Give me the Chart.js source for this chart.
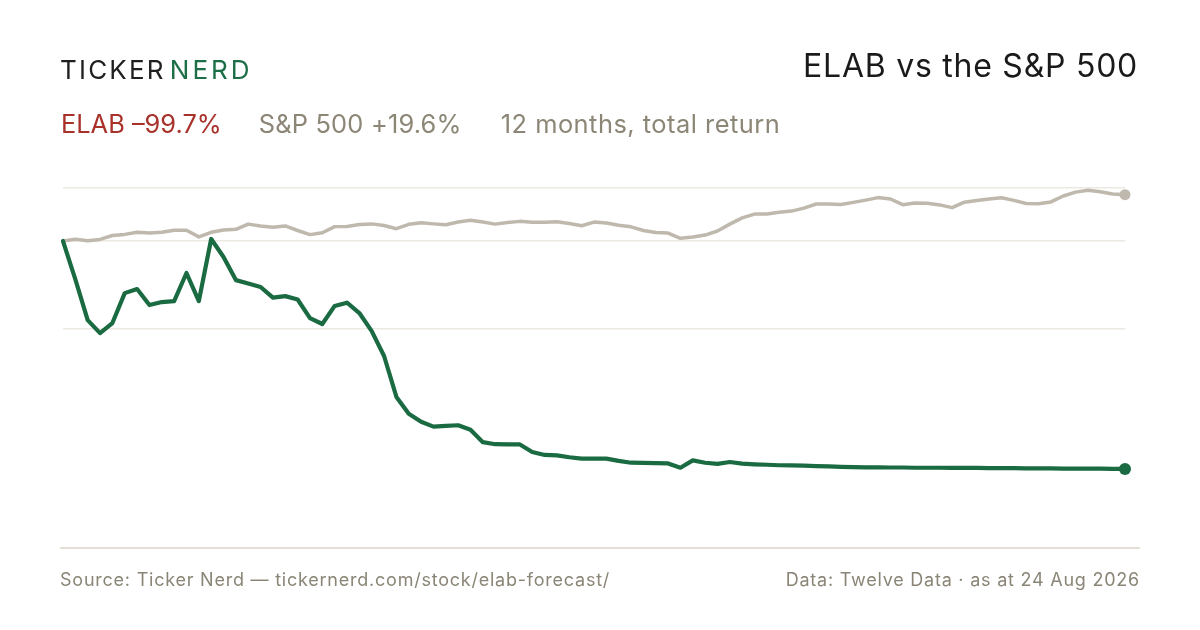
<!DOCTYPE html>
<html>
<head>
<meta charset="utf-8">
<script src="https://cdn.jsdelivr.net/npm/chart.js@4/dist/chart.umd.min.js"></script>
<style>
	html,body{margin:0;padding:0;background:#fff;}
	#page{position:relative;width:1200px;height:630px;overflow:hidden;background:#fff;}
	#page canvas{position:absolute;left:0;top:0;}
	.logo{position:absolute;left:60px;top:57px;font-family:Inter,sans-serif;font-size:26px;line-height:1;letter-spacing:2.2px;color:#1f1f1f;white-space:nowrap;}
	.logo .nerd{color:#1b6e45;margin-left:4px;letter-spacing:3px;}
	.title{position:absolute;right:62px;top:50px;font-family:Inter,sans-serif;font-size:32px;line-height:1;letter-spacing:0.75px;color:#1a1a1a;white-space:nowrap;}
	.sub{position:absolute;left:61px;top:111px;font-family:Inter,sans-serif;font-size:25.4px;line-height:1;color:#8c8676;white-space:nowrap;display:flex;}
	.sub .elab{color:#a8322a;}
	.sub .spx{letter-spacing:0.2px;margin-left:37px;}
	.sub .span{letter-spacing:0.5px;margin-left:39px;}
	.rule{position:absolute;left:60px;width:1080px;top:547px;height:2px;background:#e4e0d8;}
	.foot{position:absolute;top:571px;font-family:Inter,sans-serif;font-size:18px;line-height:1;letter-spacing:0.77px;color:#8a8576;white-space:nowrap;}
	.foot.left{left:60px;}
	.foot.right{right:60px;}
</style>
</head>
<body>
<div id="page">
	<canvas id="ctx" width="1200" height="630"></canvas>
	<div class="logo">TICKER<span class="nerd">NERD</span></div>
	<div class="title">ELAB vs the S&amp;P 500</div>
	<div class="sub"><span class="elab">ELAB &#8211;99.7%</span><span class="spx">S&amp;P 500 +19.6%</span><span class="span">12 months, total return</span></div>
	<div class="rule"></div>
	<div class="foot left">Source: Ticker Nerd &#8212; tickernerd.com/stock/elab-forecast/</div>
	<div class="foot right">Data: Twelve Data &#183; as at 24 Aug 2026</div>
</div>
<script>

	// DATA
	// --------------------
	var dates = [
		'25 Aug','28 Aug','2 Sep','5 Sep','10 Sep','15 Sep','18 Sep','23 Sep','26 Sep','1 Oct',
		'6 Oct','9 Oct','14 Oct','17 Oct','22 Oct','27 Oct','30 Oct','4 Nov','7 Nov','12 Nov',
		'17 Nov','20 Nov','25 Nov','28 Nov','3 Dec','8 Dec','11 Dec','16 Dec','19 Dec','24 Dec',
		'29 Dec','1 Jan','6 Jan','9 Jan','14 Jan','19 Jan','22 Jan','27 Jan','30 Jan','4 Feb',
		'9 Feb','12 Feb','17 Feb','20 Feb','25 Feb','2 Mar','5 Mar','10 Mar','13 Mar','18 Mar',
		'23 Mar','26 Mar','31 Mar','3 Apr','8 Apr','13 Apr','16 Apr','21 Apr','24 Apr','29 Apr',
		'4 May','7 May','12 May','15 May','20 May','25 May','28 May','2 Jun','5 Jun','10 Jun',
		'15 Jun','18 Jun','23 Jun','26 Jun','1 Jul','6 Jul','9 Jul','14 Jul','17 Jul','22 Jul',
		'27 Jul','30 Jul','4 Aug','7 Aug','12 Aug','17 Aug','24 Aug'
	];

	// total return, %
	var elabReturn = [
		0, -16.8, -34.6, -40.3, -35.9, -22.8, -21.0, -28.0, -26.7, -26.3,
		-14.0, -26.3, 0.9, -7.0, -17.1, -18.6, -20.1, -24.8, -24.1, -25.6,
		-33.7, -36.3, -28.4, -27.0, -31.5, -39.4, -50.3, -68.2, -75.6, -79.1,
		-81.2, -80.9, -80.6, -82.6, -88.0, -88.9, -89.0, -89.0, -92.3, -93.6,
		-93.8, -94.6, -95.2, -95.2, -95.2, -96.2, -97.0, -97.1, -97.2, -97.3,
		-99.2, -96.0, -97.0, -97.5, -96.7, -97.4, -97.7, -97.9, -98.1, -98.2,
		-98.3, -98.5, -98.6, -98.8, -98.9, -99.0, -99.0, -99.1, -99.1, -99.2,
		-99.2, -99.2, -99.3, -99.3, -99.3, -99.4, -99.4, -99.4, -99.5, -99.5,
		-99.5, -99.6, -99.6, -99.6, -99.6, -99.7, -99.7
	];

	var spxReturn = [
		0, 0.8, 0.1, 0.7, 2.4, 2.9, 3.8, 3.5, 3.8, 4.7,
		4.7, 1.8, 3.8, 4.8, 5.1, 7.4, 6.6, 6.0, 6.6, 4.6,
		2.8, 3.6, 6.3, 6.4, 7.2, 7.5, 6.8, 5.4, 7.3, 8.0,
		7.5, 7.1, 8.3, 9.1, 8.3, 7.4, 8.1, 8.6, 8.2, 8.2,
		8.4, 7.7, 6.7, 8.3, 7.9, 6.9, 6.2, 4.6, 3.7, 3.5,
		1.2, 1.8, 2.6, 4.4, 7.4, 10.1, 11.8, 11.8, 12.6, 13.1,
		14.4, 16.2, 16.2, 16.0, 16.9, 17.9, 19.0, 18.4, 15.9, 16.6,
		16.5, 15.8, 14.6, 17.0, 17.7, 18.4, 18.9, 17.8, 16.4, 16.3,
		17.1, 19.7, 21.4, 22.2, 21.6, 20.6, 20.3
	];

	var gridValues = [23.2, 0, -38.5];

	var green = '#1a6a42';
	var sand = '#bfb8ad';

	// CHART
	// --------------------
	new Chart(document.getElementById('ctx'), {
		type: 'line',
		data: {
			labels: dates,
			datasets: [
				series('ELAB', elabReturn, green, 4.2, 6),
				series('S&P 500', spxReturn, sand, 3.5, 5.5)
			]
		},
		options: {
			responsive: false,
			animation: false,
			events: [],
			layout: { padding: { left: 63, right: 75, top: 188, bottom: 149 } },
			plugins: { legend: { display: false }, tooltip: { enabled: false } },
			scales: {
				x: { display: false },
				y: {
					min: -105,
					max: 23.2,
					afterBuildTicks: function(axis){
						axis.ticks = gridValues.map(function(v){ return { value: v }; });
					},
					ticks: { display: false, padding: 0 },
					border: { display: false },
					grid: { color: '#ece9e3', lineWidth: 1.5, drawTicks: false }
				}
			}
		}
	});

	function series(label, values, color, width, endRadius){
		return {
			label: label,
			data: values,
			borderColor: color,
			backgroundColor: color,
			borderWidth: width,
			borderJoinStyle: 'round',
			borderCapStyle: 'round',
			tension: 0,
			fill: false,
			clip: false,
			pointRadius: function(c){ return c.dataIndex === values.length - 1 ? endRadius : 0; },
			pointBorderWidth: 0
		};
	}

</script>
</body>
</html>
